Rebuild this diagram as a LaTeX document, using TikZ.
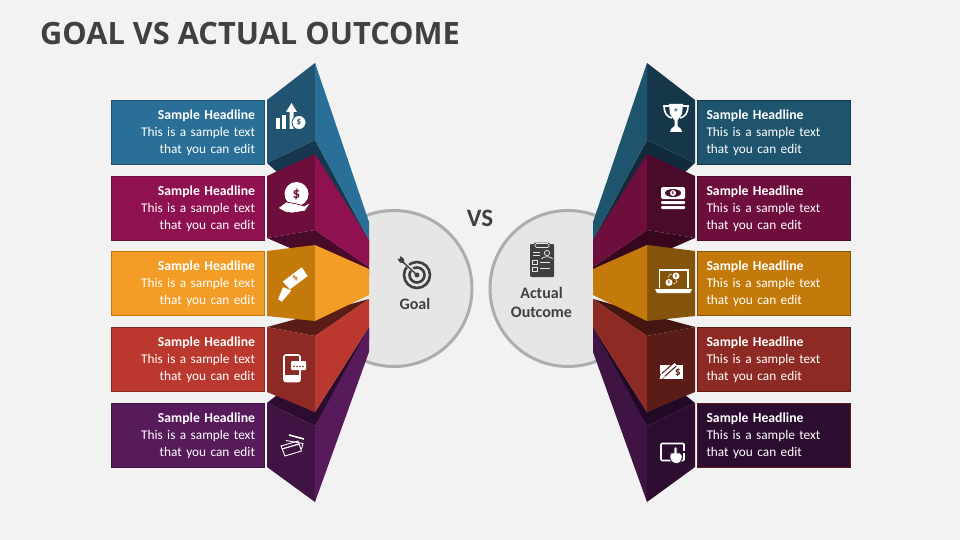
\documentclass[tikz,border=0pt]{standalone}
\usepackage{fontspec}
\setmainfont{Carlito}
\newfontfamily\titlefont{Open Sans}
\definecolor{pagebg}{HTML}{F2F2F2}
\definecolor{ringfill}{HTML}{E6E6E6}
\definecolor{ringline}{HTML}{ADADAD}
\definecolor{inkgray}{HTML}{404040}
\definecolor{Lblue}{HTML}{2A6F97}\definecolor{Lblues}{HTML}{215470}\definecolor{Lblued}{HTML}{16374D}
\definecolor{Lmag}{HTML}{8F1150}\definecolor{Lmags}{HTML}{6E0E3D}\definecolor{Lmagd}{HTML}{4A0A29}
\definecolor{Lora}{HTML}{F39C26}\definecolor{Loras}{HTML}{C47A0B}\definecolor{Lorad}{HTML}{83540A}
\definecolor{Lred}{HTML}{BA382E}\definecolor{Lreds}{HTML}{8C2A23}\definecolor{Lredd}{HTML}{5A1C17}
\definecolor{Lpur}{HTML}{571A5B}\definecolor{Lpurs}{HTML}{3F1342}\definecolor{Lpurd}{HTML}{2C0D30}
\definecolor{Rblue}{HTML}{1F546F}\definecolor{Rblues}{HTML}{16374A}\definecolor{Rblued}{HTML}{112B3A}
\definecolor{Rmag}{HTML}{6E0E3D}\definecolor{Rmags}{HTML}{4A0A29}\definecolor{Rmagd}{HTML}{37071E}
\definecolor{Rora}{HTML}{C47A0B}\definecolor{Roras}{HTML}{83540A}\definecolor{Rorad}{HTML}{5E3C07}
\definecolor{Rred}{HTML}{8C2A23}\definecolor{Rreds}{HTML}{5A1C17}\definecolor{Rredd}{HTML}{451511}
\definecolor{Rpur}{HTML}{3F1342}\definecolor{Rpurs}{HTML}{2C0D30}\definecolor{Rpurd}{HTML}{200A24}
\newcommand{\bannertext}{\rule{0pt}{12pt}{\bfseries\fontsize{13.7}{17}\selectfont Sample Headline}\\This is a sample text\\that you can edit}
\tikzstyle{banner}=[draw, line width=0.8pt, minimum width=153pt, minimum height=64pt, inner xsep=9pt, text width=135pt, text=white, font=\fontsize{13.3}{17}\selectfont]
\tikzstyle{ico}=[fill=white, draw=none]
\tikzstyle{icoline}=[draw=white, line width=1.6pt, fill=none]
\tikzstyle{coin}=[font=\bfseries\fontsize{9}{9}\selectfont, inner sep=0pt]
\tikzstyle{ringlabel}=[font=\bfseries\fontsize{16}{19}\selectfont, text=inkgray, align=center]
\begin{document}
\begin{tikzpicture}[x=1pt, y=-1pt]
\useasboundingbox (0,0) rectangle (960,540);
\fill[pagebg] (0,0) rectangle (960,540);
\node[anchor=west, inner sep=0pt, text=inkgray, font=\titlefont\bfseries\fontsize{30.75}{31}\selectfont] (title) at (40,34) {GOAL VS ACTUAL OUTCOME};
\node[inner sep=0pt, text=inkgray, font=\bfseries\fontsize{25}{25}\selectfont] (versus) at (480,218) {VS};
\node[circle, draw=ringline, fill=ringfill, line width=3pt, minimum size=156pt] (goal) at (394,288.5) {};
\node[circle, draw=ringline, fill=ringfill, line width=3pt, minimum size=156pt] (actual) at (568,288.5) {};
\node[ringlabel] (goaltext) at (415,303.5) {Goal};
\node[ringlabel] (actualtext) at (541.5,302.5) {Actual\\Outcome};
\foreach \sd/\ox/\ux in {L/0/1, R/962/-1} {
  \begin{scope}[shift={(\ox,0)}, x=\ux pt]
    \fill[\sd blued] (267,163) -- (315,140) -- (369,240) -- (369,262) -- (315,165) -- (277,172) -- cycle;
    \fill[\sd blues] (267,100) -- (315,63) -- (315,140) -- (267,163) -- cycle;
    \fill[\sd blue] (315,63) -- (369,222) -- (369,240) -- (315,140) -- cycle;
    \fill[\sd magd] (267,238) -- (315,230) -- (369,267) -- (369,275) -- (315,248) -- (290,248) -- cycle;
    \fill[\sd mags] (267,176) -- (315,154) -- (315,230) -- (267,238) -- cycle;
    \fill[\sd mag] (315,154) -- (369,240) -- (369,267) -- (315,230) -- cycle;
    \fill[\sd purd] (267,403) -- (277,395) -- (315,412) -- (369,327) -- (369,340) -- (315,426) -- cycle;
    \fill[\sd purs] (267,403) -- (315,426) -- (315,502) -- (267,467) -- cycle;
    \fill[\sd pur] (315,426) -- (369,327) -- (369,352) -- (315,502) -- cycle;
    \fill[\sd redd] (267,327) -- (315,314) -- (369,299) -- (315,336) -- cycle;
    \fill[\sd reds] (267,327) -- (315,336) -- (315,412) -- (267,392) -- cycle;
    \fill[\sd red] (315,336) -- (369,299) -- (369,327) -- (315,412) -- cycle;
    \fill[\sd oras] (267,251) -- (315,245) -- (315,321) -- (267,316) -- cycle;
    \fill[\sd ora] (315,245) -- (369,269) -- (369,295) -- (315,321) -- cycle;
  \end{scope}
}
\node[banner, fill=Lblue, draw=Lblues, align=right] (goal1) at (187.5,132) {\bannertext};
\node[banner, fill=Lmag, draw=Lmags, align=right] (goal2) at (187.5,208) {\bannertext};
\node[banner, fill=Lora, draw=Loras, align=right] (goal3) at (187.5,283) {\bannertext};
\node[banner, fill=Lred, draw=Lreds, align=right] (goal4) at (187.5,359) {\bannertext};
\node[banner, fill=Lpur, draw=Lpurs, align=right] (goal5) at (187.5,435) {\bannertext};
\node[banner, fill=Rblue, draw=Rblues, align=left] (actual1) at (774,132) {\bannertext};
\node[banner, fill=Rmag, draw=Rmags, align=left] (actual2) at (774,208) {\bannertext};
\node[banner, fill=Rora, draw=Roras, align=left] (actual3) at (774,283) {\bannertext};
\node[banner, fill=Rred, draw=Rreds, align=left] (actual4) at (774,359) {\bannertext};
\node[banner, fill=Rpurs, draw=Rreds, align=left] (actual5) at (774,435) {\bannertext};
% goal icons
\fill[ico] (276,118) rectangle (279.5,129);
\fill[ico] (282,115) rectangle (286,129);
\fill[ico] (289.5,129) -- (289.5,112) -- (286,112) -- (291.5,103) -- (297,112) -- (293.5,112) -- (293.5,129) -- cycle;
\node[circle, fill=white, draw=Lblues, line width=0.8pt, minimum size=14pt, text=Lblues, coin] (chartcoin) at (299,122.5) {\$};
\node[circle, fill=white, minimum size=24pt, text=Lmags, coin, font=\bfseries\fontsize{15}{15}\selectfont] (handcoin) at (296.5,194) {\$};
\fill[ico, draw=Lmags, line width=0.7pt] (278,208) -- (286,202) -- (297,204) -- (304,206) -- (311,202) -- (305,211) -- (292,213) -- (285,212) -- cycle;
\fill[ico] (282.7,281.7) -- (301.7,267.3) -- (307.7,276) -- (290,289.3) -- cycle;
\node[rotate=37, text=Loras, coin] (billmark) at (295.2,278.3) {\$};
\fill[ico, draw=Loras, line width=0.6pt] (277.7,299.3) -- (282.7,286.7) -- (291.7,290) -- (290,293) -- (281.7,302.3) -- cycle;
\draw[icoline, rounded corners=2pt] (300,361) -- (300,355) -- (284,355) -- (284,381.5) -- (300,381.5) -- (300,370);
\fill[ico] (284,375) rectangle (300,381.5);
\fill[ico, rounded corners=1pt] (291,361) rectangle (306,370);
\foreach \dotx in {294,297,300,303} { \fill[Lreds] (\dotx,366.5) circle (0.8pt); }
\draw[draw=white, line width=0.9pt] (281,446) -- (298,441) -- (301.5,451) -- (285,456) -- cycle;
\draw[draw=white, line width=1.2pt] (282,449) -- (299,444);
\draw[draw=white, line width=0.9pt] (286,440.5) -- (303,443.5) -- (301.5,449);
\draw[draw=white, line width=1.6pt] (289,435) -- (304,439);
% actual icons
\fill[ico] (669,104) -- (683,104) -- (682,114) -- (677.5,120.5) -- (677.5,126) -- (681,129) -- (682,132) -- (670,132) -- (671,129) -- (674.5,126) -- (674.5,120.5) -- (670,114) -- cycle;
\draw[icoline] (669,106) -- (664,106) .. controls (664,113) and (667,117) .. (672,118);
\draw[icoline] (683,106) -- (688,106) .. controls (688,113) and (685,117) .. (680,118);
\node[text=Rblues, inner sep=0pt, font=\fontsize{9}{9}\selectfont] (trophystar) at (676,110) {$\star$};
\fill[ico, rounded corners=1.5pt] (661,187) rectangle (685,199);
\fill[Rmags] (673,193) ellipse (8pt and 4pt);
\node[circle, fill=white, minimum size=6pt, inner sep=0pt, text=Rmags, font=\bfseries\fontsize{5}{5}\selectfont] (stackcoin) at (673,193) {\$};
\fill[ico, rounded corners=1pt] (661,201) rectangle (685,204);
\fill[ico, rounded corners=1pt] (661,206) rectangle (685,209);
\draw[icoline] (659.5,288) -- (659.5,270) -- (688,270) -- (688,288);
\fill[ico] (655,289) -- (692,289) -- (690,293) -- (657,293) -- cycle;
\node[circle, fill=white, minimum size=7pt, inner sep=0pt, text=Roras, font=\bfseries\fontsize{5}{5}\selectfont] (laptopcoina) at (676,276) {\$};
\node[circle, fill=white, minimum size=7pt, inner sep=0pt, text=Roras, font=\bfseries\fontsize{5}{5}\selectfont] (laptopcoinb) at (669,282.5) {\$};
\draw[draw=white, line width=0.5pt] (668,277.5) .. controls (668.5,275) and (670,274) .. (672,274) (677,280) .. controls (677,282) and (675.5,284) .. (673,284);
\fill[ico] (659.5,365) rectangle (683,379);
\draw[Rreds, line width=5pt] (661,377) -- (675,364.5);
\draw[white, line width=2.6pt] (661,377) -- (675.5,364);
\fill[white] (661.5,373) -- (665,377) -- (659.5,379) -- cycle;
\node[text=Rreds, coin, font=\bfseries\fontsize{11}{11}\selectfont] (chequemark) at (678,372.5) {\$};
\draw[icoline, rounded corners=1pt] (661,443.5) rectangle (684,460.5);
\fill[ico, draw=Rpurs, line width=0.7pt] (670,458) .. controls (669,452) and (673,452) .. (674,453) -- (674,448) .. controls (674,446) and (677,446) .. (677,448) -- (677,453) .. controls (681,452) and (683,455) .. (682,459) .. controls (681,465) and (672,466) .. (670,458) -- cycle;
\draw[draw=Rpurs, line width=2pt] (684,451) -- (684,453);
% ring icons
\draw[inkgray, line width=2.6pt] (417,275) circle (13pt);
\draw[inkgray, line width=2.6pt] (417,275) circle (7.5pt);
\fill[inkgray] (417,275) circle (2.5pt);
\draw[draw=ringfill, line width=3pt] (415,272.5) -- (406,264);
\draw[inkgray, line width=1.4pt] (417,275) -- (403,262);
\fill[inkgray] (404,263.5) -- (400,262.5) -- (397.5,259) -- (400,258.5) -- (400.5,256) -- (404,259) -- cycle;
\fill[inkgray, rounded corners=1pt] (530,244) rectangle (554,277);
\fill[inkgray, rounded corners=2pt] (534,242.5) rectangle (550,249);
\draw[ringfill, line width=0.7pt, rounded corners=1.5pt] (535,243.5) rectangle (549,247.5);
\fill[ringfill] (532.5,252) rectangle (540,253);
\fill[ringfill] (532.5,255) rectangle (540,256);
\draw[ringfill, line width=0.8pt] (547,253) circle (2.6pt) (541.5,259) .. controls (542,256) and (552,256) .. (552.5,259);
\draw[ringfill, line width=0.8pt] (532.5,260.5) rectangle (537,264.5) (532.5,267) rectangle (537,271);
\fill[ringfill] (540,262) rectangle (550,263);
\fill[ringfill] (540,268) rectangle (550,269);
\end{tikzpicture}
\end{document}
